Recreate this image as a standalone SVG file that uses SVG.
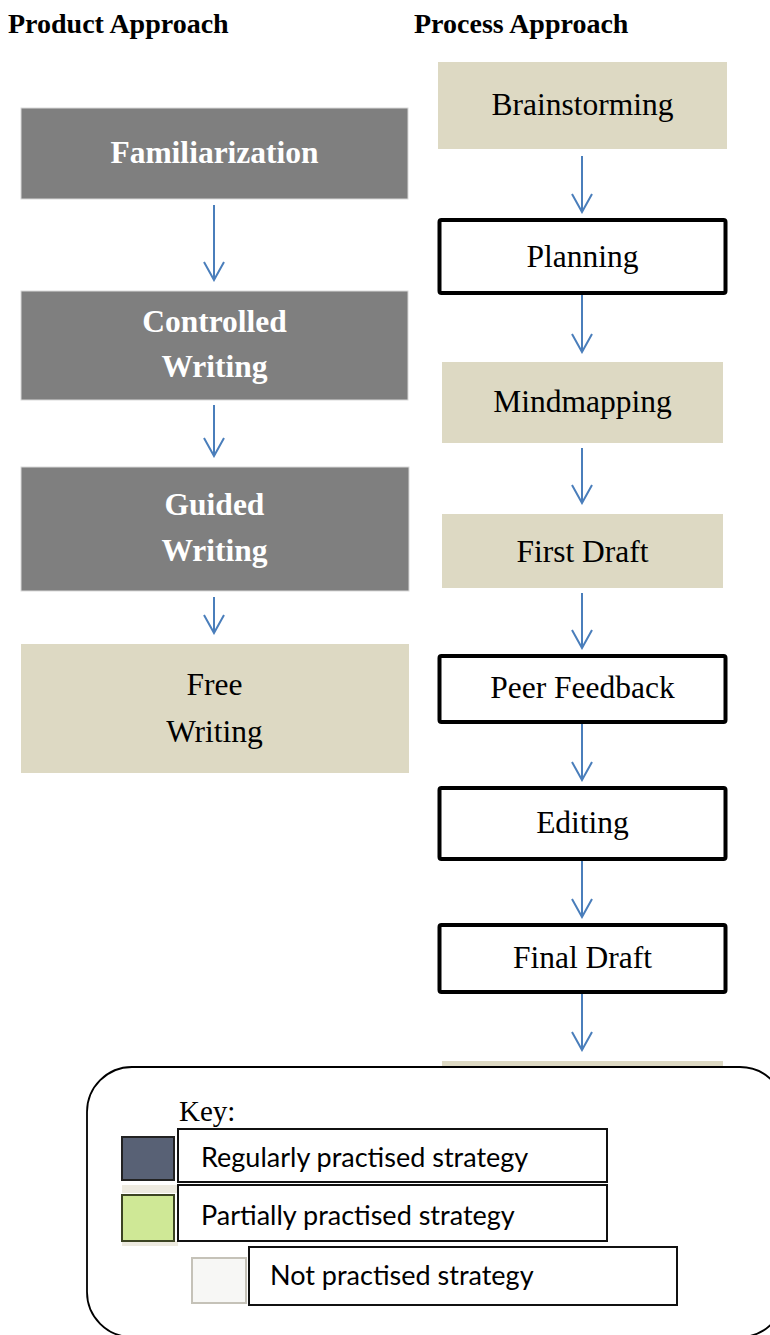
<svg xmlns="http://www.w3.org/2000/svg" width="770" height="1335" viewBox="0 0 770 1335">
<style>
.hdr{font-family:"Liberation Serif","Times New Roman",serif;font-weight:bold;font-size:28px;fill:#000}
.gray{fill:#7f7f7f;stroke:#d9d9d9;stroke-width:1}
.beige{fill:#ddd9c3}
.bold{stroke:#000;stroke-width:4;fill:#fff}
.wt{font-family:"Liberation Serif","Times New Roman",serif;font-weight:bold;font-size:31.5px;fill:#fff;text-anchor:middle}
.bt{font-family:"Liberation Serif","Times New Roman",serif;font-size:31.5px;fill:#000;text-anchor:middle}
.arr{stroke:#4a7ebb;stroke-width:2;fill:none}
.kt{font-family:Lato,"Liberation Sans",sans-serif;font-size:27px;fill:#000}
.kbox{fill:#fff;stroke:#111;stroke-width:2}
</style>
<defs>
<marker id="ah" viewBox="0 0 22 24" refX="20" refY="12" markerWidth="22" markerHeight="24" markerUnits="userSpaceOnUse" orient="auto">
<path d="M2,2 L20,12 L2,22" fill="none" stroke="#4a7ebb" stroke-width="2"/>
</marker>
</defs>
<rect width="770" height="1335" fill="#fff"/>
<text class="hdr" x="8" y="33">Product Approach</text>
<text class="hdr" x="414" y="33">Process Approach</text>

<g id="connectors">
<path class="arr" d="M214,205 V280" marker-end="url(#ah)"/>
<path class="arr" d="M214,405 V456" marker-end="url(#ah)"/>
<path class="arr" d="M214,597 V633" marker-end="url(#ah)"/>
<path class="arr" d="M582,156 V212" marker-end="url(#ah)"/>
<path class="arr" d="M582,295 V352" marker-end="url(#ah)"/>
<path class="arr" d="M582,448 V503" marker-end="url(#ah)"/>
<path class="arr" d="M582,593 V648" marker-end="url(#ah)"/>
<path class="arr" d="M582,724 V780" marker-end="url(#ah)"/>
<path class="arr" d="M582,861 V917" marker-end="url(#ah)"/>
<path class="arr" d="M582,994 V1050" marker-end="url(#ah)"/>
</g>

<g id="familiarization">
<rect class="gray" x="21" y="108" width="387" height="91"/>
<text class="wt" x="214.5" y="163">Familiarization</text>
</g>
<g id="controlled-writing">
<rect class="gray" x="21" y="291" width="387" height="109"/>
<text class="wt" x="214.5" y="332">Controlled</text>
<text class="wt" x="214.5" y="377">Writing</text>
</g>
<g id="guided-writing">
<rect class="gray" x="21" y="467" width="388" height="124"/>
<text class="wt" x="214.5" y="515">Guided</text>
<text class="wt" x="214.5" y="561">Writing</text>
</g>
<g id="free-writing">
<rect class="beige" x="21" y="644" width="388" height="129"/>
<text class="bt" x="214.5" y="695">Free</text>
<text class="bt" x="214.5" y="742">Writing</text>
</g>

<g id="brainstorming">
<rect class="beige" x="438" y="62" width="289" height="87"/>
<text class="bt" x="582.5" y="115">Brainstorming</text>
</g>
<g id="planning">
<rect class="bold" x="439.5" y="220" width="286" height="73" rx="2"/>
<text class="bt" x="582.5" y="267">Planning</text>
</g>
<g id="mindmapping">
<rect class="beige" x="442" y="362" width="281" height="81"/>
<text class="bt" x="582.5" y="412">Mindmapping</text>
</g>
<g id="first-draft">
<rect class="beige" x="442" y="514" width="281" height="74"/>
<text class="bt" x="582.5" y="562">First Draft</text>
</g>
<g id="peer-feedback">
<rect class="bold" x="439.5" y="656" width="286" height="66" rx="2"/>
<text class="bt" x="582.5" y="698">Peer Feedback</text>
</g>
<g id="editing">
<rect class="bold" x="439.5" y="788" width="286" height="71" rx="2"/>
<text class="bt" x="582.5" y="833">Editing</text>
</g>
<g id="final-draft">
<rect class="bold" x="439.5" y="925" width="286" height="67" rx="2"/>
<text class="bt" x="582.5" y="968">Final Draft</text>
</g>
<g id="hidden-node">
<rect class="beige" x="442" y="1061" width="281" height="60"/>
</g>

<g id="legend">
<rect x="87" y="1067" width="698" height="270" rx="45" ry="45" fill="#fff" stroke="#000" stroke-width="1.8"/>
<text x="179" y="1121" font-family="'Liberation Serif','Times New Roman',serif" font-size="29" fill="#000">Key:</text>
<rect x="122" y="1185" width="56" height="8" fill="#edeae0"/>
<rect x="122" y="1241" width="56" height="5" fill="#edeae0"/>
<rect x="122" y="1137" width="52" height="43" fill="#586175" stroke="#222" stroke-width="2"/>
<rect x="122" y="1195" width="52" height="46" fill="#cfe896" stroke="#3c4423" stroke-width="2"/>
<rect x="192" y="1258" width="54" height="45" fill="#f7f7f5" stroke="#c5c2b8" stroke-width="2"/>
<rect class="kbox" x="178" y="1129" width="429" height="53"/>
<text class="kt" x="201" y="1167">Regularly practised strategy</text>
<rect class="kbox" x="178" y="1185" width="429" height="56"/>
<text class="kt" x="201" y="1225">Partially practised strategy</text>
<rect class="kbox" x="249" y="1247" width="428" height="58"/>
<text class="kt" x="270" y="1285">Not practised strategy</text>
</g>
</svg>
